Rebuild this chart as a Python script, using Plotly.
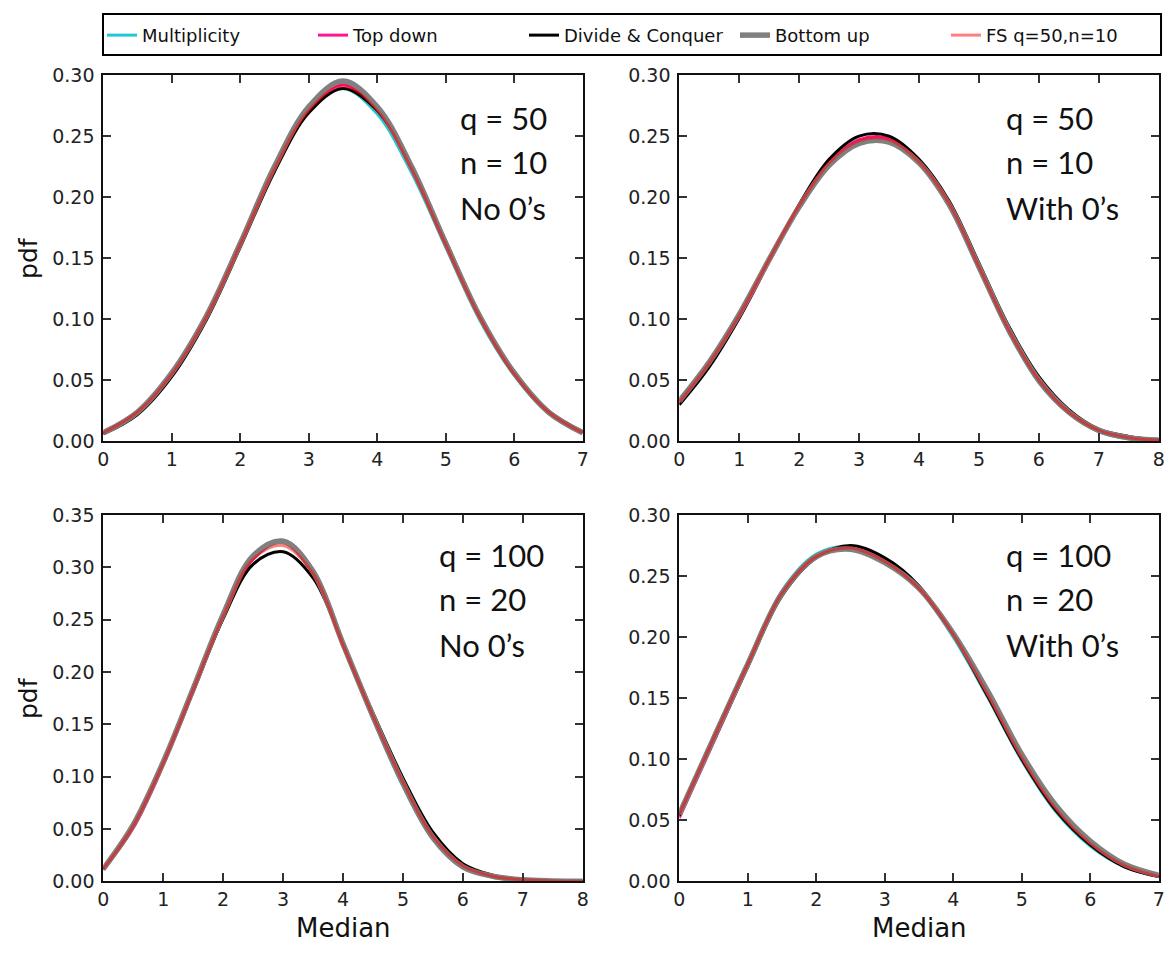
import plotly.graph_objects as go

# ---------------- data ----------------
x_0_7 = [0, 0.5, 1, 1.5, 2, 2.5, 3, 3.5, 4, 4.5, 5, 5.5, 6, 6.5, 7]
x_0_8 = [0, 0.5, 1, 1.5, 2, 2.5, 3, 3.5, 4, 4.5, 5, 5.5, 6, 6.5, 7, 7.5, 8]

series_names = ["Multiplicity", "Top down", "Divide & Conquer", "Bottom up", "FS q=50,n=10"]

# Panel 1: q=50, n=10, No 0's  (x: 0..7)
p1_multiplicity = [0.007, 0.023, 0.054, 0.100, 0.161, 0.224, 0.271, 0.289, 0.268, 0.220, 0.159, 0.099, 0.054, 0.023, 0.007]
p1_topdown      = [0.007, 0.024, 0.055, 0.101, 0.161, 0.223, 0.272, 0.292, 0.272, 0.223, 0.161, 0.101, 0.055, 0.024, 0.007]
p1_divide       = [0.006, 0.022, 0.053, 0.099, 0.159, 0.221, 0.269, 0.289, 0.271, 0.225, 0.164, 0.103, 0.057, 0.025, 0.008]
p1_bottomup     = [0.007, 0.024, 0.056, 0.102, 0.162, 0.225, 0.274, 0.295, 0.274, 0.225, 0.162, 0.102, 0.056, 0.024, 0.007]
p1_fs           = [0.007, 0.024, 0.055, 0.101, 0.161, 0.223, 0.271, 0.291, 0.271, 0.223, 0.161, 0.101, 0.055, 0.024, 0.007]

# Panel 2: q=50, n=10, With 0's  (x: 0..8)
p2_multiplicity = [0.033, 0.065, 0.104, 0.150, 0.193, 0.227, 0.245, 0.246, 0.228, 0.193, 0.141, 0.089, 0.048, 0.023, 0.008, 0.002, 0.001]
p2_topdown      = [0.033, 0.063, 0.101, 0.147, 0.192, 0.228, 0.247, 0.248, 0.229, 0.195, 0.143, 0.091, 0.050, 0.024, 0.009, 0.003, 0.001]
p2_divide       = [0.030, 0.061, 0.101, 0.148, 0.194, 0.231, 0.250, 0.250, 0.231, 0.197, 0.146, 0.094, 0.053, 0.026, 0.010, 0.004, 0.001]
p2_bottomup     = [0.033, 0.065, 0.104, 0.149, 0.192, 0.226, 0.244, 0.245, 0.228, 0.194, 0.143, 0.091, 0.050, 0.024, 0.009, 0.003, 0.001]
p2_fs           = [0.032, 0.064, 0.103, 0.149, 0.193, 0.228, 0.246, 0.247, 0.229, 0.195, 0.143, 0.091, 0.050, 0.024, 0.009, 0.003, 0.001]

# Panel 3: q=100, n=20, No 0's  (x: 0..8)
p3_multiplicity = [0.012, 0.053, 0.113, 0.183, 0.252, 0.308, 0.324, 0.295, 0.225, 0.155, 0.091, 0.040, 0.013, 0.004, 0.0012, 0.0004, 0.0001]
p3_topdown      = [0.011, 0.051, 0.111, 0.181, 0.252, 0.308, 0.326, 0.298, 0.229, 0.159, 0.095, 0.043, 0.015, 0.005, 0.0015, 0.0005, 0.0002]
p3_divide       = [0.012, 0.053, 0.113, 0.182, 0.251, 0.303, 0.315, 0.290, 0.227, 0.161, 0.099, 0.047, 0.017, 0.006, 0.0020, 0.0006, 0.0002]
p3_bottomup     = [0.012, 0.054, 0.114, 0.184, 0.255, 0.311, 0.325, 0.296, 0.227, 0.158, 0.094, 0.042, 0.014, 0.005, 0.0015, 0.0005, 0.0002]
p3_fs           = [0.012, 0.053, 0.113, 0.183, 0.253, 0.308, 0.321, 0.294, 0.226, 0.158, 0.095, 0.043, 0.015, 0.005, 0.0015, 0.0005, 0.0002]

# Panel 4: q=100, n=20, With 0's  (x: 0..7)
p4_multiplicity = [0.057, 0.119, 0.180, 0.238, 0.268, 0.274, 0.262, 0.239, 0.200, 0.151, 0.099, 0.057, 0.029, 0.012, 0.004]
p4_topdown      = [0.052, 0.114, 0.176, 0.235, 0.266, 0.274, 0.263, 0.241, 0.203, 0.154, 0.101, 0.059, 0.031, 0.013, 0.004]
p4_divide       = [0.054, 0.115, 0.176, 0.234, 0.265, 0.275, 0.265, 0.242, 0.202, 0.152, 0.100, 0.058, 0.030, 0.012, 0.004]
p4_bottomup     = [0.055, 0.117, 0.178, 0.236, 0.266, 0.272, 0.261, 0.240, 0.203, 0.156, 0.104, 0.062, 0.033, 0.014, 0.005]
p4_fs           = [0.055, 0.117, 0.178, 0.236, 0.266, 0.273, 0.262, 0.240, 0.202, 0.153, 0.101, 0.059, 0.031, 0.013, 0.004]

x_ticks_7 = [0, 1, 2, 3, 4, 5, 6, 7]
x_ticks_8 = [0, 1, 2, 3, 4, 5, 6, 7, 8]
y_ticks_30 = [0.00, 0.05, 0.10, 0.15, 0.20, 0.25, 0.30]
y_ticks_35 = [0.00, 0.05, 0.10, 0.15, 0.20, 0.25, 0.30, 0.35]

panel_labels = [["q = 50", "n = 10", "No 0\u2019s"],
                ["q = 50", "n = 10", "With 0\u2019s"],
                ["q = 100", "n = 20", "No 0\u2019s"],
                ["q = 100", "n = 20", "With 0\u2019s"]]

# ---------------- styling ----------------
W, H = 1170, 953
styles = [
    dict(color="#1fc8d2", width=3),             # Multiplicity
    dict(color="#ff1493", width=3),             # Top down
    dict(color="#000000", width=3),             # Divide & Conquer
    dict(color="#808080", width=5.5),           # Bottom up
    dict(color="rgba(255,0,0,0.5)", width=3),   # FS
]

panels = [
    dict(ax="x", ay="y", x=x_0_7, ys=[p1_multiplicity, p1_topdown, p1_divide, p1_bottomup, p1_fs]),
    dict(ax="x2", ay="y2", x=x_0_8, ys=[p2_multiplicity, p2_topdown, p2_divide, p2_bottomup, p2_fs]),
    dict(ax="x3", ay="y3", x=x_0_8, ys=[p3_multiplicity, p3_topdown, p3_divide, p3_bottomup, p3_fs]),
    dict(ax="x4", ay="y4", x=x_0_7, ys=[p4_multiplicity, p4_topdown, p4_divide, p4_bottomup, p4_fs]),
]

fig = go.Figure()
for pi, p in enumerate(panels):
    for si, (name, ys) in enumerate(zip(series_names, p["ys"])):
        fig.add_trace(go.Scatter(
            x=p["x"], y=ys, mode="lines", name=name,
            line=dict(color=styles[si]["color"], width=styles[si]["width"], shape="spline", smoothing=1.0),
            xaxis=p["ax"], yaxis=p["ay"], showlegend=(pi == 0), legendgroup=name,
            hoverinfo="skip",
        ))

def px_x(v):
    return v / W

def px_y(v):
    return 1 - v / H

# plot-area rectangles (pixels): equal-sized panels, matplotlib-like spacing
L0, L1 = 98.3, 582.7
R0, R1 = 680.3, 1164.7
T0, T1 = 65.5, 440.5
B0, B1 = 516.0, 891.0

left_dom = [px_x(L0), px_x(L1)]
right_dom = [px_x(R0), px_x(R1)]
top_dom = [px_y(T1), px_y(T0)]
bot_dom = [px_y(B1), px_y(B0)]

tickfont = dict(family="DejaVu Sans", size=19, color="#222222")
common = dict(showline=True, linecolor="#111111", linewidth=2, mirror="ticks",
              ticks="inside", ticklen=8, tickwidth=1.5, tickcolor="#333333",
              showgrid=False, zeroline=False, tickfont=tickfont, fixedrange=True)

def xax(dom, anchor, rng, tv):
    return dict(common, domain=dom, anchor=anchor, range=rng, tickmode="array",
                tickvals=tv, ticktext=[str(t) for t in tv])

def yax(dom, anchor, rng, tv):
    return dict(common, domain=dom, anchor=anchor, range=rng, tickmode="array",
                tickvals=tv, ticktext=["%.2f" % t for t in tv], ticklabelstandoff=3)

annotations = []
# panel text
text_pos = [(457, [110, 155, 202]), (1008, [110, 155, 202]),
            (435, [557, 602, 649]), (1008, [557, 602, 649])]
for (xp, yps), lines in zip(text_pos, panel_labels):
    for yp, t in zip(yps, lines):
        annotations.append(dict(text=t, xref="paper", yref="paper", x=px_x(xp), y=px_y(yp),
                                xanchor="left", yanchor="middle", showarrow=False,
                                font=dict(family="Lato", size=31, color="#111111")))
# axis titles
for ymid in [(T0 + T1) / 2, (B0 + B1) / 2]:
    annotations.append(dict(text="pdf", xref="paper", yref="paper", x=px_x(22), y=px_y(ymid),
                            xanchor="center", yanchor="middle", textangle=-90, showarrow=False,
                            font=dict(family="DejaVu Sans", size=25, color="#111111")))
for xmid in [(L0 + L1) / 2, (R0 + R1) / 2]:
    annotations.append(dict(text="Median", xref="paper", yref="paper", x=px_x(xmid), y=px_y(939),
                            xanchor="center", yanchor="middle", showarrow=False,
                            font=dict(family="DejaVu Sans", size=26, color="#111111")))

fig.update_layout(
    width=W, height=H, autosize=False,
    margin=dict(l=0, r=0, t=0, b=0),
    paper_bgcolor="white", plot_bgcolor="white",
    xaxis=xax(left_dom, "y", [0, 7], x_ticks_7),
    yaxis=yax(top_dom, "x", [0, 0.30], y_ticks_30),
    xaxis2=xax(right_dom, "y2", [0, 8], x_ticks_8),
    yaxis2=yax(top_dom, "x2", [0, 0.30], y_ticks_30),
    xaxis3=xax(left_dom, "y3", [0, 8], x_ticks_8),
    yaxis3=yax(bot_dom, "x3", [0, 0.35], y_ticks_35),
    xaxis4=xax(right_dom, "y4", [0, 7], x_ticks_7),
    yaxis4=yax(bot_dom, "x4", [0, 0.30], y_ticks_30),
    legend=dict(orientation="h", x=px_x(97), xanchor="left", y=px_y(25), yanchor="middle",
                entrywidth=166, entrywidthmode="pixels", bgcolor="rgba(0,0,0,0)", borderwidth=0,
                font=dict(family="DejaVu Sans", size=18, color="#111111"), traceorder="normal"),
    shapes=[dict(type="rect", xref="paper", yref="paper", x0=px_x(98), x1=px_x(1167),
                 y0=px_y(45), y1=px_y(3), line=dict(color="#000000", width=2),
                 fillcolor="rgba(0,0,0,0)")],
    annotations=annotations,
    showlegend=True,
)

post = ("document.documentElement.style.margin='0';document.documentElement.style.padding='0';"
        "document.documentElement.style.overflow='hidden';"
        "document.body.style.margin='0';document.body.style.padding='0';document.body.style.overflow='hidden';"
        "document.body.style.width='1170px';document.body.style.height='953px';"
        "var gd=document.getElementById('{plot_id}');"
        "gd.style.position='absolute';gd.style.left='0px';gd.style.top='0px';")

fig.write_html("out.html", config={"displayModeBar": False}, post_script=post)
